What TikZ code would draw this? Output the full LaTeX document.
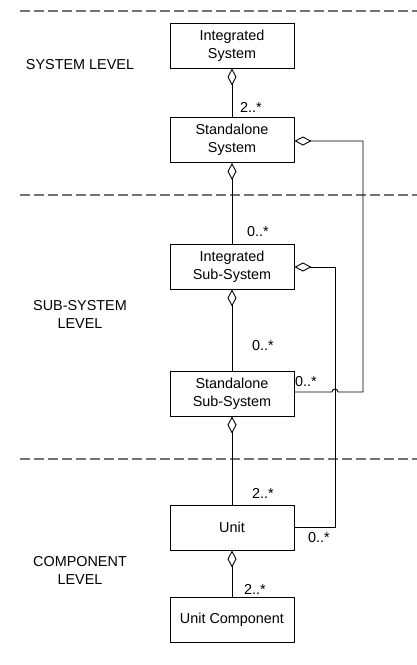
\documentclass[tikz,border=0pt]{standalone}
\usepackage{fontspec}
\setmainfont{Liberation Sans}
\usetikzlibrary{arrows.meta}
\begin{document}
\begin{tikzpicture}[x=1pt,y=-1pt,
  every node/.style={font=\fontsize{14.4}{18}\selectfont},
  cls/.style={draw, line width=0.9pt, minimum width=124pt, minimum height=45pt, align=center, inner sep=0pt},
  lvl/.style={align=center},
  mult/.style={inner sep=0pt},
  conn/.style={line width=0.9pt},
  agg/.style={conn, {Diamond[open, length=17pt, width=9pt, line width=0.9pt]}-},
  sep/.style={dashed, dash pattern=on 10pt off 4pt, line width=1.4pt, draw=black!55}
]
\useasboundingbox (0,0) rectangle (417,665);

% separators
\coordinate (s1a) at (20,11);  \coordinate (s1b) at (417,11);
\coordinate (s2a) at (20,195); \coordinate (s2b) at (417,195);
\coordinate (s3a) at (20,459); \coordinate (s3b) at (417,459);
\draw[sep] (s1a) -- (s1b);
\draw[sep] (s2a) -- (s2b);
\draw[sep] (s3a) -- (s3b);

% level labels
\node[lvl] (lsys) at (80,65) {SYSTEM LEVEL};
\node[lvl] (lsub) at (80,314) {SUB-SYSTEM\\LEVEL};
\node[lvl] (lcomp) at (80,570) {COMPONENT\\LEVEL};

% classes
\node[cls] (is)  at (232,45.5)  {Integrated\\System};
\node[cls] (ss)  at (232,140)   {Standalone\\System};
\node[cls] (iss) at (232,266.5) {Integrated\\Sub-System};
\node[cls] (sss) at (232,393.5) {Standalone\\Sub-System};
\node[cls] (un)  at (232,527.5) {Unit};
\node[cls] (uc)  at (232,619.5) {Unit Component};

% vertical aggregations
\draw[agg] (is.south) -- (ss.north);
\draw[agg] (ss.south) -- (iss.north);
\draw[agg] (iss.south) -- (sss.north);
\draw[agg] (sss.south) -- (un.north);
\draw[agg] (un.south) -- (uc.north);

% side aggregations
\coordinate (c1) at (363,141);
\coordinate (c2) at (363,392);
\coordinate (h1) at (338,392);
\draw[agg] (ss.east |- c1) -- (c1) -- (c2) -- (h1) arc (0:-180:3) -- (sss.east |- c2);

\coordinate (d1) at (335,267);
\coordinate (d2) at (335,527);
\draw[agg] (iss.east |- d1) -- (d1) -- (d2) -- (un.east |- d2);

% multiplicities
\node[mult] (m1) at (251,107) {2..*};
\node[mult] (m2) at (258,232) {0..*};
\node[mult] (m3) at (263,346) {0..*};
\node[mult] (m4) at (263,493) {2..*};
\node[mult] (m5) at (255,589) {2..*};
\node[mult] (m6) at (306,382) {0..*};
\node[mult] (m7) at (319,538) {0..*};
\end{tikzpicture}
\end{document}
